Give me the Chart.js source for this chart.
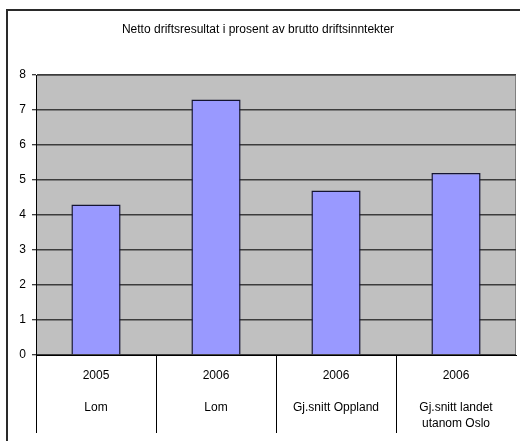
<!DOCTYPE html>
<html>
<head>
<meta charset="utf-8">
<script src="https://cdn.jsdelivr.net/npm/chart.js@4"></script>
<style>
html,body{margin:0;padding:0;background:#fff;}
canvas{display:block;}
</style>
</head>
<body>
<canvas id="c" width="520" height="441"></canvas>
<script>
const chartTitle = 'Netto driftsresultat i prosent av brutto driftsinntekter';
const years = ['2005', '2006', '2006', '2006'];
const names = [['Lom'], ['Lom'], ['Gj.snitt Oppland'], ['Gj.snitt landet', 'utanom Oslo']];
const values = [4.3, 7.3, 4.7, 5.2];
const yMin = 0, yMax = 8, yStep = 1;

const labels = years.map((y, i) => [y, ''].concat(names[i]));
const FONT = "'Liberation Sans', Arial, sans-serif";

const frame = {
  id: 'frame',
  beforeDraw(chart) {
    const ctx = chart.ctx, a = chart.chartArea;
    ctx.save();
    ctx.fillStyle = '#fff';
    ctx.fillRect(0, 0, chart.width, chart.height);
    ctx.strokeStyle = '#2a2a2a';
    ctx.lineWidth = 2;
    ctx.strokeRect(7, 10, 700, 700);
    ctx.fillStyle = '#C0C0C0';
    ctx.fillRect(a.left, a.top, a.right - a.left, a.bottom - a.top);
    ctx.strokeStyle = '#808080';
    ctx.lineWidth = 1;
    ctx.beginPath();
    ctx.moveTo(a.left, a.top + 0.5);
    ctx.lineTo(a.right - 0.5, a.top + 0.5);
    ctx.lineTo(a.right - 0.5, a.bottom);
    ctx.stroke();
    ctx.restore();
  }
};

new Chart(document.getElementById('c'), {
  type: 'bar',
  data: {
    labels: labels,
    datasets: [{
      data: values,
      backgroundColor: '#9999FF',
      borderColor: '#141432',
      borderWidth: 1.5,
      barPercentage: 0.41,
      categoryPercentage: 1
    }]
  },
  options: {
    responsive: false,
    animation: false,
    devicePixelRatio: 1,
    layout: { padding: { left: 0, right: 4, top: 0, bottom: 0 } },
    plugins: {
      legend: { display: false },
      tooltip: { enabled: false },
      title: {
        display: true,
        text: chartTitle,
        color: '#000',
        font: { family: FONT, size: 12, weight: 'normal', lineHeight: 1.2 },
        padding: { top: 22, bottom: 38.6 }
      }
    },
    scales: {
      x: {
        offset: true,
        grid: {
          offset: true,
          drawOnChartArea: false,
          drawTicks: true,
          tickLength: 78,
          lineWidth: 1,
          color: c => c.type === 'tick' ? '#000' : 'rgba(0,0,0,0)'
        },
        border: { display: true, color: '#000', width: 1 },
        ticks: {
          autoSkip: false,
          maxRotation: 0,
          minRotation: 0,
          color: '#000',
          padding: -64.9,
          font: { family: FONT, size: 12, lineHeight: '15.8px' }
        },
        afterFit: s => { s.height = 86; }
      },
      y: {
        min: yMin,
        max: yMax,
        ticks: {
          stepSize: yStep,
          color: '#000',
          padding: 6,
          font: { family: FONT, size: 12 }
        },
        grid: {
          color: '#3c3c3c',
          lineWidth: 1.5,
          tickLength: 4,
          tickColor: '#000',
          tickWidth: 1
        },
        border: { display: true, color: '#000', width: 1 },
        afterFit: s => { s.width = 36; }
      }
    }
  },
  plugins: [frame]
});
</script>
</body>
</html>
